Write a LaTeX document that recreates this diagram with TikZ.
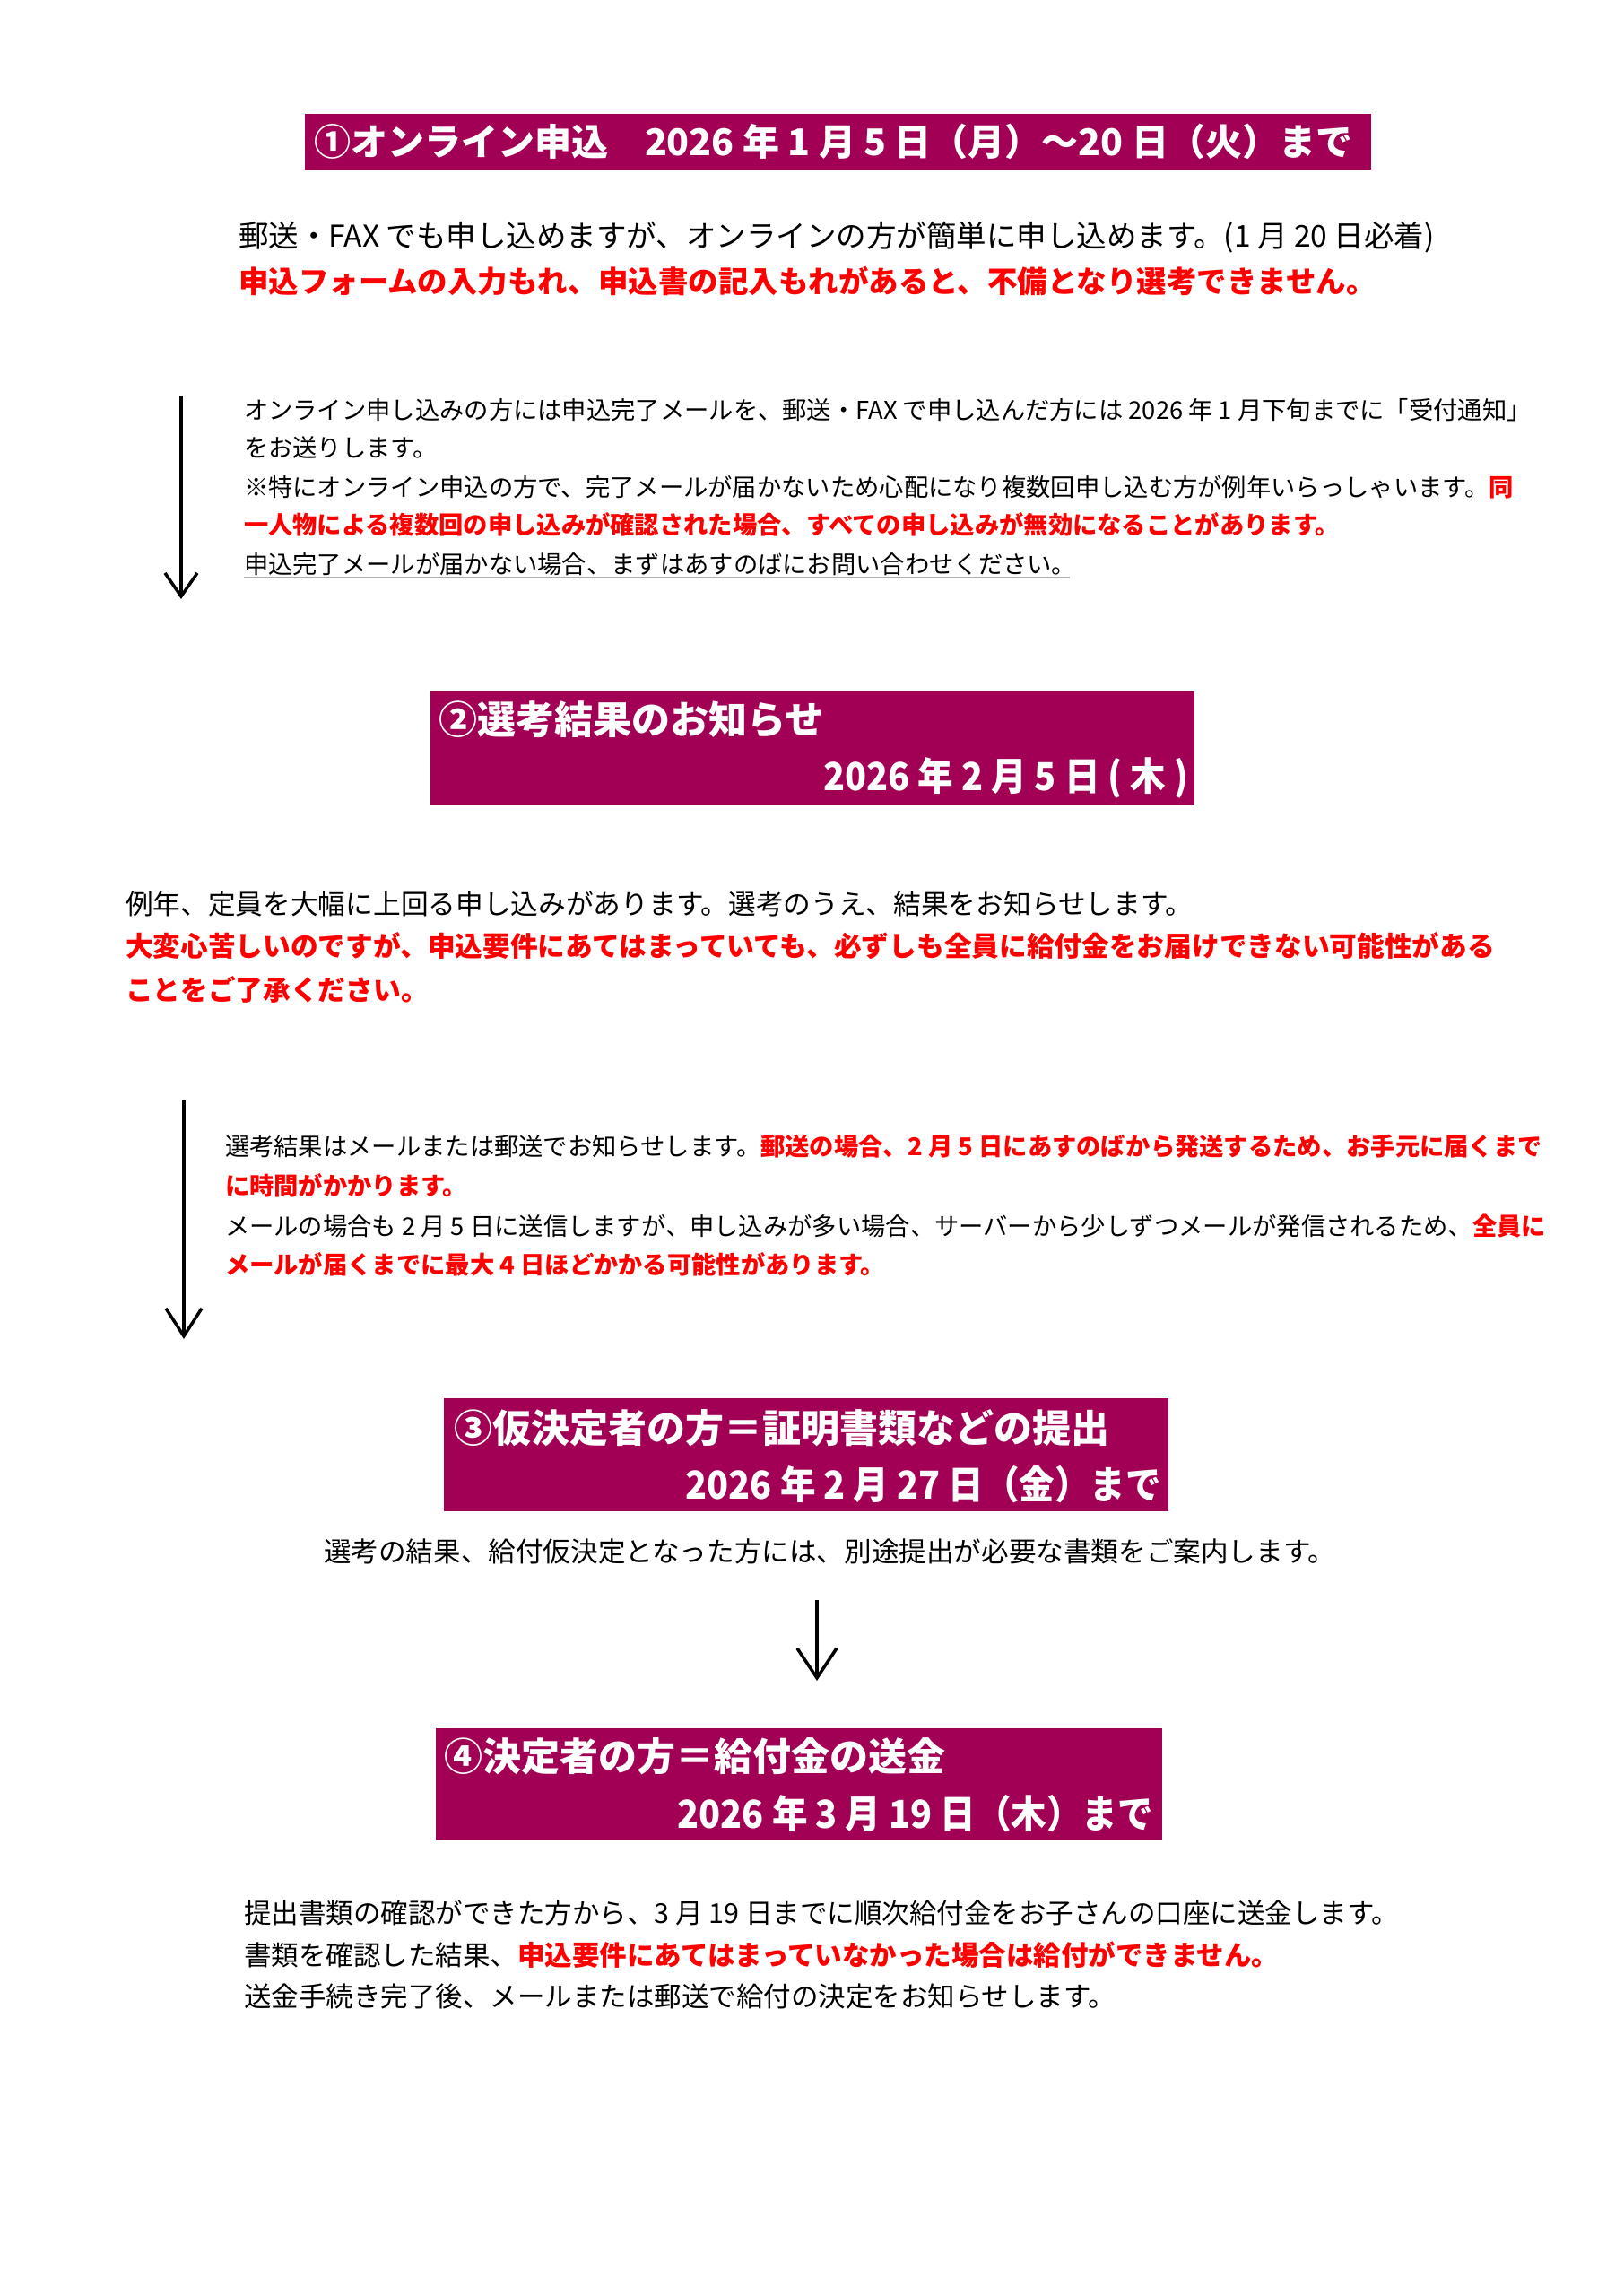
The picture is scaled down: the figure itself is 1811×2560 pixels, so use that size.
\documentclass[tikz,border=0pt]{standalone}
\usepackage{fontspec}
\setmainfont{Noto Sans CJK JP}
\usetikzlibrary{arrows.meta}
\definecolor{boxc}{RGB}{162,0,84}
\definecolor{redt}{RGB}{255,0,0}
\definecolor{ulc}{RGB}{176,176,176}
\newcommand\fs[1]{\fontsize{#1}{#1}\selectfont}
\newcommand\rb[1]{\textcolor{redt}{\bfseries #1}}
\newcommand\cond[1]{\scalebox{0.92}[1]{#1}}
\begin{document}
\begin{tikzpicture}[x=1pt,y=-1pt,
  txt/.style={anchor=west, inner sep=0pt, outer sep=0pt},
  ttl/.style={inner sep=0pt, outer sep=0pt, text=white},
  band/.style={fill=boxc, draw=none, inner sep=0pt, anchor=north west},
  flow/.style={line width=3.5pt}]
\useasboundingbox (0,0) rectangle (1811,2560);
\fill[white] (0,0) rectangle (1811,2560);

% ---------- box 1 ----------
\node[band, minimum width=1189pt, minimum height=62pt] (b1) at (340,127) {};
\node[ttl, anchor=west] (t1) at (350,158) {\fs{41}\bfseries ①オンライン申込　2026 年 1 月 5 日（月）～20 日（火）まで};

\node[txt] (p1a) at (266,265) {\fs{33.5}郵送・FAX でも申し込めますが、オンラインの方が簡単に申し込めます。(1 月 20 日必着)};
\node[txt] (p1b) at (266,313) {\fs{33.5}\rb{申込フォームの入力もれ、申込書の記入もれがあると、不備となり選考できません。}};

% ---------- arrow 1 + notes ----------
\coordinate (a1s) at (202,441);
\coordinate (a1e) at (202,668);
\draw[flow, -{Straight Barb[length=26pt, width=36pt]}] (a1s) -- (a1e);

\node[txt] (p2a) at (272,457) {\fs{27.3}オンライン申し込みの方には申込完了メールを、郵送・FAX で申し込んだ方には 2026 年 1 月下旬までに「受付通知」};
\node[txt] (p2b) at (272,499) {\fs{27.3}をお送りします。};
\node[txt] (p2c) at (272,543) {\fs{27.3}※特にオンライン申込の方で、完了メールが届かないため心配になり複数回申し込む方が例年いらっしゃいます。\rb{同}};
\node[txt] (p2d) at (272,585) {\fs{27.3}\rb{一人物による複数回の申し込みが確認された場合、すべての申し込みが無効になることがあります。}};
\node[txt] (p2e) at (272,629) {\fs{27.3}申込完了メールが届かない場合、まずはあすのばにお問い合わせください。};
\draw[ulc, line width=2pt] (272,644) -- (1193,644);

% ---------- box 2 ----------
\node[band, minimum width=852pt, minimum height=127pt] (b2) at (480,771) {};
\node[ttl, anchor=west] (t2) at (489,802) {\fs{43}\bfseries ②選考結果のお知らせ};
\node[ttl, anchor=east] (d2) at (1325,867) {\fs{43}\bfseries\cond{2026 年 2 月 5 日 ( 木 )}};

\node[txt] (p3a) at (140,1008) {\fs{30.7}例年、定員を大幅に上回る申し込みがあります。選考のうえ、結果をお知らせします。};
\node[txt] (p3b) at (140,1055) {\fs{30.7}\rb{大変心苦しいのですが、申込要件にあてはまっていても、必ずしも全員に給付金をお届けできない可能性がある}};
\node[txt] (p3c) at (140,1103) {\fs{30.7}\rb{ことをご了承ください。}};

% ---------- arrow 2 + notes ----------
\coordinate (a2s) at (205,1227);
\coordinate (a2e) at (205,1493);
\draw[flow, -{Straight Barb[length=31pt, width=40pt]}] (a2s) -- (a2e);

\node[txt] (p4a) at (251,1278) {\fs{27.3}選考結果はメールまたは郵送でお知らせします。\rb{郵送の場合、2 月 5 日にあすのばから発送するため、お手元に届くまで}};
\node[txt] (p4b) at (251,1322) {\fs{27.3}\rb{に時間がかかります。}};
\node[txt] (p4c) at (251,1367) {\fs{27.3}メールの場合も 2 月 5 日に送信しますが、申し込みが多い場合、サーバーから少しずつメールが発信されるため、\rb{全員に}};
\node[txt] (p4d) at (251,1410) {\fs{27.3}\rb{メールが届くまでに最大 4 日ほどかかる可能性があります。}};

% ---------- box 3 ----------
\node[band, minimum width=808pt, minimum height=126pt] (b3) at (495,1559) {};
\node[ttl, anchor=west] (t3) at (506,1592) {\fs{43}\bfseries ③仮決定者の方＝証明書類などの提出};
\node[ttl, anchor=east] (d3) at (1295,1655) {\fs{43}\bfseries\cond{2026 年 2 月 27 日（金）まで}};

\node[txt] (p5) at (361,1730) {\fs{30.6}選考の結果、給付仮決定となった方には、別途提出が必要な書類をご案内します。};

% ---------- arrow 3 ----------
\coordinate (a3s) at (911,1784);
\coordinate (a3e) at (911,1874);
\draw[flow, -{Straight Barb[length=33pt, width=44pt]}] (a3s) -- (a3e);

% ---------- box 4 ----------
\node[band, minimum width=810pt, minimum height=125pt] (b4) at (486,1927) {};
\node[ttl, anchor=west] (t4) at (495,1958) {\fs{43}\bfseries ④決定者の方＝給付金の送金};
\node[ttl, anchor=east] (d4) at (1286,2022) {\fs{43}\bfseries\cond{2026 年 3 月 19 日（木）まで}};

\node[txt] (p6a) at (272,2133) {\fs{30.5}提出書類の確認ができた方から、3 月 19 日までに順次給付金をお子さんの口座に送金します。};
\node[txt] (p6b) at (272,2180) {\fs{30.5}書類を確認した結果、\rb{申込要件にあてはまっていなかった場合は給付ができません。}};
\node[txt] (p6c) at (272,2226) {\fs{30.5}送金手続き完了後、メールまたは郵送で給付の決定をお知らせします。};
\end{tikzpicture}
\end{document}
